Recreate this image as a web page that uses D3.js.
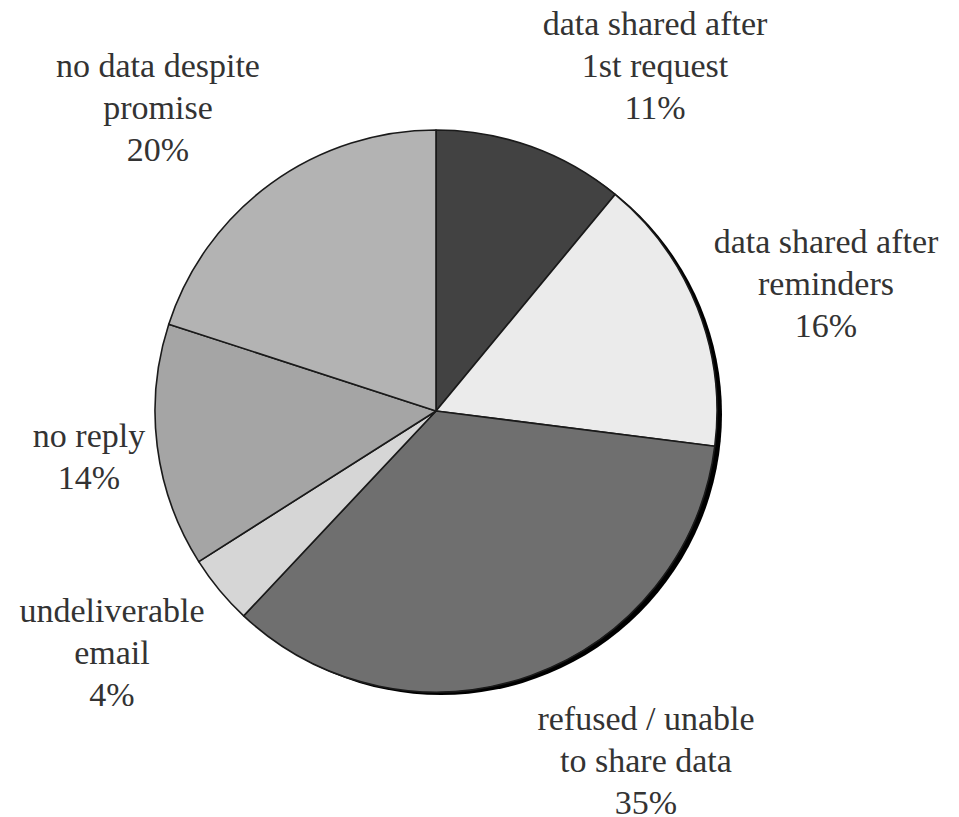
<!DOCTYPE html>
<html>
<head>
<meta charset="utf-8">
<script src="https://cdn.jsdelivr.net/npm/d3@7/dist/d3.min.js"></script>
<style>
  html, body { margin: 0; padding: 0; background: #fff; }
  svg { display: block; }
</style>
</head>
<body>
<svg id="chart" width="959" height="817"></svg>
<script>
// Outcome of data requests, share of all requests (%)
const categories = [
  "data shared after 1st request",
  "data shared after reminders",
  "refused / unable to share data",
  "undeliverable email",
  "no reply",
  "no data despite promise"
];
const values = [11, 16, 35, 4, 14, 20];
const labelLines = [
  ["data shared after", "1st request", "11%"],
  ["data shared after", "reminders", "16%"],
  ["refused / unable", "to share data", "35%"],
  ["undeliverable", "email", "4%"],
  ["no reply", "14%"],
  ["no data despite", "promise", "20%"]
];
const fills = ["#424242", "#ebebeb", "#6f6f6f", "#d6d6d6", "#a5a5a5", "#b3b3b3"];

const width = 959, height = 817;
const cx = 436, cy = 411, radius = 281;

const svg = d3.select("#chart");

const data = categories.map((c, i) => ({ name: c, value: values[i], lines: labelLines[i], fill: fills[i] }));

const pie = d3.pie().value(d => d.value).sort(null);
const arcs = pie(data);
const arc = d3.arc().innerRadius(0).outerRadius(radius);

const g = svg.append("g").attr("transform", `translate(${cx},${cy})`);

// drop shadow edge on the right / lower rim
g.append("circle")
  .attr("cx", 5).attr("cy", 3)
  .attr("r", radius)
  .attr("fill", "#000");

g.selectAll("path.slice")
  .data(arcs)
  .join("path")
  .attr("class", "slice")
  .attr("d", arc)
  .attr("fill", d => d.data.fill)
  .attr("stroke", "#1a1a1a")
  .attr("stroke-width", 1.6)
  .attr("stroke-linejoin", "round");

// label anchor positions (centre of each text block, first line)
const labelPos = [
  { x: 655, y: 23 },
  { x: 826, y: 241 },
  { x: 646, y: 718 },
  { x: 112, y: 610 },
  { x: 89,  y: 435 },
  { x: 158, y: 65 }
];
const lineH = 42;

// one text element per label line
const lineData = data.flatMap((d, i) =>
  d.lines.map((ln, j) => ({ text: ln, x: labelPos[i].x, y: labelPos[i].y + j * lineH })));

svg.selectAll("text.lbl")
  .data(lineData)
  .join("text")
  .attr("class", "lbl")
  .attr("x", d => d.x)
  .attr("y", d => d.y)
  .attr("dy", "0.35em")
  .attr("text-anchor", "middle")
  .attr("font-size", 34)
  .style("font-family", '"Liberation Serif", "Times New Roman", serif')
  .attr("fill", "#333")
  .text(d => d.text);
</script>
</body>
</html>
